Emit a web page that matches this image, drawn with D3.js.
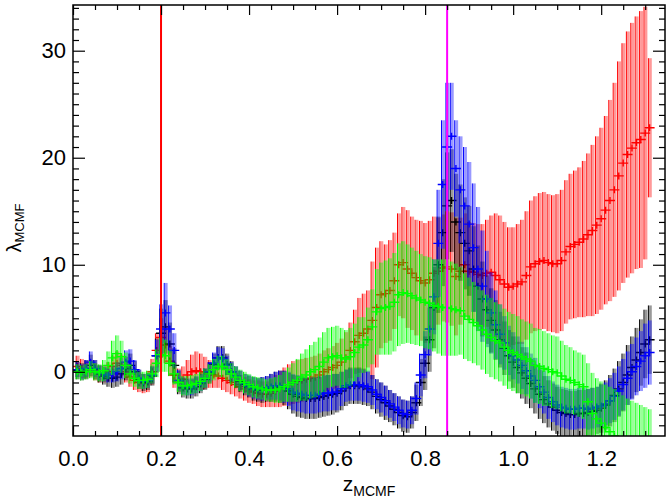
<!DOCTYPE html>
<html>
<head>
<meta charset="utf-8">
<script src="https://cdn.jsdelivr.net/npm/d3@7.9.0/dist/d3.min.js"></script>
<style>
  body { margin: 0; background: #fff; }
  text { font-family: "Liberation Sans", Arial, Helvetica, sans-serif; fill: #000; }
</style>
</head>
<body>
<svg id="chart" width="668" height="502"></svg>
<script>
// redshift grid shared by all four runs
const zGrid = [
  0.01,0.02,0.03,0.04,0.05,0.06,0.07,0.08,0.09,0.10,
  0.11,0.12,0.13,0.14,0.15,0.16,0.17,0.18,0.19,0.20,
  0.21,0.22,0.23,0.24,0.25,0.26,0.27,0.28,0.29,0.30,
  0.31,0.32,0.33,0.34,0.35,0.36,0.37,0.38,0.39,0.40,
  0.41,0.42,0.43,0.44,0.45,0.46,0.47,0.48,0.49,0.50,
  0.51,0.52,0.53,0.54,0.55,0.56,0.57,0.58,0.59,0.60,
  0.61,0.62,0.63,0.64,0.65,0.66,0.67,0.68,0.69,0.70,
  0.71,0.72,0.73,0.74,0.75,0.76,0.77,0.78,0.79,0.80,
  0.81,0.82,0.83,0.84,0.85,0.86,0.87,0.88,0.89,0.90,
  0.91,0.92,0.93,0.94,0.95,0.96,0.97,0.98,0.99,1.00,
  1.01,1.02,1.03,1.04,1.05,1.06,1.07,1.08,1.09,1.10,
  1.11,1.12,1.13,1.14,1.15,1.16,1.17,1.18,1.19,1.20,
  1.21,1.22,1.23,1.24,1.25,1.26,1.27,1.28,1.29,1.30,
  1.31
];

const blackVal = [
  0.1,0.0,0.2,0.6,0.2,-0.2,-0.4,-0.6,-0.6,-0.5,
  -0.2,0.3,0.6,0.0,-0.7,-1.0,-0.9,-0.4,1.5,3.6,
  4.2,2.6,0.6,-1.0,-1.5,-1.6,-1.6,-1.4,-1.1,-0.7,
  -0.1,0.7,1.3,1.3,0.7,0.0,-0.5,-0.9,-1.2,-1.4,
  -1.6,-1.7,-1.7,-1.6,-1.5,-1.4,-1.4,-1.5,-1.8,-2.1,
  -2.3,-2.4,-2.5,-2.5,-2.5,-2.4,-2.3,-2.2,-2.1,-2.0,
  -1.8,-1.5,-1.3,-1.3,-1.3,-1.4,-1.6,-1.9,-2.3,-2.6,
  -2.9,-3.2,-3.5,-3.8,-4.1,-4.2,-3.8,-2.9,-1.0,0.8,
  3.0,6.0,10.0,13.0,15.5,16.0,14.0,13.0,12.0,11.3,
  9.6,8.0,6.8,5.8,4.8,3.9,3.0,2.2,1.5,0.9,
  0.4,-0.1,-0.6,-1.1,-1.6,-2.1,-2.6,-3.0,-3.3,-3.6,
  -3.8,-3.9,-4.0,-4.0,-3.9,-3.9,-3.8,-3.7,-3.6,-3.4,
  -3.1,-2.7,-2.2,-1.6,-1.0,-0.3,0.4,1.1,1.8,2.6,
  3.0
];
const blackErr = [
  0.8,0.8,0.9,1.0,0.9,0.8,0.8,0.8,0.9,0.9,
  1.0,1.1,1.1,1.0,0.9,0.8,0.8,0.9,1.6,2.3,
  2.5,2.0,1.6,1.1,0.9,0.9,0.9,0.9,0.9,1.0,
  1.0,1.0,1.1,1.1,1.0,1.0,1.0,1.0,1.0,1.0,
  1.1,1.1,1.2,1.2,1.3,1.4,1.5,1.6,1.7,1.8,
  1.9,1.9,1.9,1.9,1.9,1.9,1.9,1.9,1.9,1.8,
  1.8,1.7,1.7,1.7,1.7,1.7,1.6,1.6,1.6,1.6,
  1.6,1.5,1.5,1.5,1.5,1.5,1.5,1.7,2.2,2.5,
  3.0,3.8,4.5,5.0,5.0,4.8,4.5,4.5,4.3,4.2,
  4.0,3.8,3.5,3.2,3.0,2.8,2.6,2.5,2.4,2.4,
  2.4,2.4,2.4,2.3,2.3,2.3,2.2,2.2,2.2,2.2,
  2.2,2.2,2.2,2.2,2.2,2.2,2.2,2.2,2.2,2.3,
  2.3,2.4,2.5,2.6,2.7,2.8,2.9,3.0,3.1,3.2,
  3.2
];

const blueVal = [
  0.2,0.0,0.3,0.9,0.3,-0.1,-0.2,-0.3,-0.2,0.0,
  0.3,0.9,1.0,0.2,-0.6,-0.9,-0.8,-0.3,1.5,4.0,
  5.5,4.0,2.0,-0.8,-1.3,-1.4,-1.4,-1.2,-1.0,-0.6,
  0.0,0.8,1.3,1.2,0.6,0.0,-0.4,-0.8,-1.1,-1.3,
  -1.5,-1.6,-1.6,-1.5,-1.4,-1.3,-1.3,-1.4,-1.6,-1.9,
  -2.0,-2.1,-2.2,-2.2,-2.2,-2.1,-2.0,-2.0,-1.9,-1.9,
  -1.6,-1.3,-1.2,-1.2,-1.2,-1.3,-1.4,-1.7,-2.1,-2.4,
  -2.7,-3.0,-3.3,-3.6,-3.9,-4.0,-3.6,-2.5,-0.3,1.6,
  4.0,7.0,12.0,17.5,21.0,22.0,19.0,17.0,15.5,13.8,
  11.6,9.6,8.0,6.8,5.5,4.4,3.5,2.7,2.0,1.5,
  1.1,0.6,0.1,-0.4,-0.8,-1.4,-1.9,-2.4,-2.8,-3.1,
  -3.3,-3.4,-3.5,-3.5,-3.4,-3.4,-3.5,-3.4,-3.3,-3.2,
  -3.0,-2.7,-2.3,-1.8,-1.2,-0.6,0.0,0.5,1.0,1.5,
  1.8
];
const blueErr = [
  0.7,0.7,0.8,1.0,0.8,0.7,0.7,0.7,0.8,0.9,
  1.0,1.1,1.1,0.9,0.8,0.7,0.7,0.8,1.5,2.3,
  2.8,2.2,1.6,1.0,0.8,0.8,0.8,0.8,0.8,0.9,
  0.9,1.0,1.0,1.0,0.9,0.9,0.9,0.9,0.9,1.0,
  1.0,1.0,1.1,1.1,1.2,1.3,1.4,1.5,1.6,1.7,
  1.7,1.7,1.7,1.7,1.7,1.7,1.7,1.7,1.7,1.7,
  1.6,1.5,1.5,1.5,1.5,1.5,1.5,1.4,1.4,1.4,
  1.4,1.3,1.3,1.3,1.3,1.3,1.3,1.5,2.0,2.2,
  2.5,3.5,5.0,6.0,6.0,5.0,4.5,5.0,5.5,5.8,
  6.0,5.8,5.2,4.5,3.8,3.2,2.8,2.5,2.3,2.2,
  2.2,2.2,2.2,2.1,2.1,2.0,2.0,2.0,1.9,1.9,
  1.9,1.9,1.9,1.9,1.9,1.9,1.9,1.9,1.9,2.0,
  2.0,2.1,2.2,2.3,2.4,2.5,2.6,2.7,2.8,3.0,
  3.0
];

const redVal = [
  0.5,0.3,0.2,0.3,0.0,-0.2,-0.2,0.0,0.5,0.8,
  0.6,0.0,-0.5,-0.8,-1.0,-1.1,-1.0,0.0,2.0,3.2,
  2.5,1.0,-0.3,-0.8,-0.7,-0.3,0.0,0.1,0.0,-0.1,
  -0.2,-0.3,-0.4,-0.6,-0.8,-1.0,-1.2,-1.4,-1.6,-1.8,
  -1.9,-2.0,-2.1,-2.1,-2.0,-1.8,-1.6,-1.4,-1.2,-1.0,
  -0.9,-0.8,-0.7,-0.6,-0.5,-0.3,0.0,0.2,0.4,0.6,
  0.9,1.3,2.0,2.8,3.4,3.6,4.0,4.8,6.0,7.2,
  7.3,7.6,8.5,10.0,10.2,9.6,9.2,8.8,8.5,8.3,
  8.6,9.2,9.4,9.7,9.8,9.6,8.9,9.4,10.0,9.4,
  9.3,9.1,9.0,9.2,9.3,9.0,8.6,8.2,7.9,8.0,
  8.2,8.4,9.0,9.8,10.1,10.3,10.4,10.2,10.1,10.1,
  10.4,11.2,11.7,11.9,12.1,12.4,12.8,13.2,13.7,14.3,
  15.1,16.0,17.0,18.3,19.5,20.3,20.9,21.4,21.7,22.3,
  22.8
];
const redErr = [
  1.0,0.9,0.8,0.8,0.8,0.8,0.8,0.9,1.0,1.1,
  1.0,1.0,0.9,0.9,0.9,0.9,0.9,1.2,1.6,1.8,
  1.7,1.4,1.2,1.1,1.2,1.4,1.6,1.8,1.7,1.5,
  1.3,1.2,1.1,1.1,1.1,1.1,1.1,1.1,1.1,1.1,
  1.1,1.2,1.2,1.2,1.3,1.5,1.7,1.8,1.9,2.0,
  2.0,2.0,2.0,2.0,2.0,2.0,2.0,2.0,2.0,2.1,
  2.2,2.4,2.6,3.0,3.5,3.7,3.6,5.5,5.6,5.0,
  4.6,4.7,4.5,4.8,5.2,5.5,5.3,5.4,5.6,5.6,
  5.5,5.3,5.0,5.0,5.2,5.3,5.5,5.0,4.8,4.6,
  4.6,4.7,4.8,5.0,5.3,5.8,6.0,5.8,5.6,5.5,
  5.6,5.8,6.0,6.2,6.3,6.4,6.4,6.4,6.4,6.5,
  6.6,6.7,6.8,6.9,7.0,7.3,7.6,8.0,8.3,8.5,
  8.8,9.4,10.0,10.7,11.2,11.5,11.7,11.8,12.0,11.8,
  6.5
];

const greenVal = [
  0.0,-0.1,0.0,0.2,0.0,-0.1,0.1,0.6,1.3,1.7,
  1.4,0.6,-0.2,-0.6,-0.8,-0.8,-0.7,-0.2,0.8,1.6,
  1.5,0.8,-0.2,-1.0,-1.3,-1.3,-1.2,-1.1,-0.9,-0.6,
  -0.2,0.2,0.5,0.5,0.2,-0.2,-0.5,-0.8,-1.0,-1.2,
  -1.4,-1.5,-1.6,-1.7,-1.7,-1.7,-1.6,-1.4,-1.2,-1.0,
  -0.8,-0.5,-0.3,0.0,0.2,0.5,0.9,1.3,1.4,1.5,
  1.3,1.2,1.4,1.8,2.3,2.5,3.0,4.2,5.6,5.9,
  6.0,6.1,6.5,7.2,7.4,7.3,7.1,6.9,6.7,6.5,
  6.4,6.2,6.1,6.0,6.0,5.9,5.8,5.7,5.2,4.9,
  4.6,4.3,3.9,3.5,3.2,2.9,2.7,2.3,2.0,1.8,
  1.6,1.4,1.2,1.0,0.6,0.5,0.3,0.2,0.0,-0.1,
  -0.4,-0.7,-0.8,-1.0,-1.2,-1.4,-2.8,-3.9,-4.4,-4.8,
  -5.2,-5.6,-6.0,-6.5,-7.0,-7.5,-8.0,-8.5,-9.0,-9.5,
  -10.0
];
const greenErr = [
  0.7,0.7,0.7,0.8,0.8,0.8,1.0,1.3,1.6,1.7,
  1.5,1.2,0.9,0.8,0.8,0.8,0.8,0.9,1.3,1.6,
  1.5,1.2,1.0,0.9,0.9,0.9,0.9,0.9,0.9,0.9,
  0.9,1.0,1.0,1.0,1.0,1.0,1.0,1.0,1.0,1.0,
  1.0,1.0,1.0,1.0,1.1,1.2,1.3,1.4,1.6,1.8,
  2.0,2.2,2.4,2.5,2.6,2.7,2.8,2.8,2.8,2.8,
  2.8,2.7,2.7,2.7,2.8,2.6,3.0,3.5,4.0,4.3,
  4.4,4.5,4.6,4.8,4.8,4.6,4.5,4.4,4.3,4.3,
  4.3,4.3,4.4,4.5,4.5,4.4,4.3,4.1,4.0,3.9,
  3.8,3.7,3.7,3.7,3.7,3.6,3.6,3.6,3.6,3.6,
  3.6,3.5,3.5,3.5,3.5,3.5,3.5,3.4,3.4,3.4,
  3.3,3.2,3.1,3.0,3.0,3.0,3.6,3.8,3.8,3.9,
  4.0,4.2,4.4,4.6,4.8,5.0,5.3,5.6,5.9,6.2,
  6.5
];

const xMajor = [0.0, 0.2, 0.4, 0.6, 0.8, 1.0, 1.2];
const xMinor = [0.05,0.1,0.15,0.25,0.3,0.35,0.45,0.5,0.55,0.65,0.7,0.75,0.85,0.9,0.95,1.05,1.1,1.15,1.25,1.3];
const yMajor = [0, 10, 20, 30];
const yMinor = [-5,-4,-3,-2,-1,1,2,3,4,5,6,7,8,9,11,12,13,14,15,16,17,18,19,21,22,23,24,25,26,27,28,29,31,32,33,34];
const refLines = [
  { z: 0.2, color: '#ff0000' },
  { z: 0.85, color: '#ff00ff' }
];

const series = [
  { name: 'red', color: '#ff0000', val: redVal, err: redErr },
  { name: 'black', color: '#000000', val: blackVal, err: blackErr },
  { name: 'blue', color: '#0000ff', val: blueVal, err: blueErr },
  { name: 'green', color: '#00ff00', val: greenVal, err: greenErr }
];

const W = 668, H = 502;
const m = { left: 73, right: 3, top: 5, bottom: 66 };
const svg = d3.select('#chart');

const x = d3.scaleLinear().domain([0, 1.345]).range([m.left, W - m.right]);
const y = d3.scaleLinear().domain([-6, 34.27]).range([H - m.bottom, m.top]);

svg.append('clipPath').attr('id', 'plotclip')
  .append('rect')
  .attr('x', m.left).attr('y', m.top)
  .attr('width', W - m.left - m.right).attr('height', H - m.top - m.bottom);

const plot = svg.append('g').attr('clip-path', 'url(#plotclip)');

series.forEach(s => {
  const pts = zGrid.map((z, i) => ({ z, v: s.val[i], e: s.err[i] }));
  const g = plot.append('g').attr('class', 'series-' + s.name);

  // translucent band part of each error bar
  g.selectAll('rect.band').data(pts).join('rect')
    .attr('class', 'band')
    .attr('x', d => x(d.z) - 0.6)
    .attr('width', 2.8)
    .attr('y', d => y(d.v + d.e))
    .attr('height', d => y(d.v - d.e) - y(d.v + d.e))
    .attr('fill', s.color)
    .attr('fill-opacity', 0.4);

  // solid thin error bar
  g.selectAll('line.err').data(pts).join('line')
    .attr('class', 'err')
    .attr('x1', d => x(d.z) - 1.2).attr('x2', d => x(d.z) - 1.2)
    .attr('y1', d => y(d.v + d.e)).attr('y2', d => y(d.v - d.e))
    .attr('stroke', s.color)
    .attr('stroke-width', 1);

  // plus markers
  g.selectAll('path.mark').data(pts).join('path')
    .attr('class', 'mark')
    .attr('d', d => {
      const cx = x(d.z), cy = y(d.v);
      return `M${cx - 5},${cy}H${cx + 5}M${cx},${cy - 3.5}V${cy + 3.5}`;
    })
    .attr('stroke', s.color)
    .attr('stroke-width', 1.4)
    .attr('fill', 'none');
});

// vertical reference lines
plot.selectAll('line.ref').data(refLines).join('line')
  .attr('class', 'ref')
  .attr('x1', d => x(d.z)).attr('x2', d => x(d.z))
  .attr('y1', m.top).attr('y2', H - m.bottom)
  .attr('stroke', d => d.color)
  .attr('stroke-width', 2);

// axes, ticks pointing inward on all four sides
const fmt = d3.format('.1f');
const axisStyle = g => {
  g.select('.domain').remove();
  g.selectAll('.tick line').attr('stroke', '#000').attr('stroke-width', 1.2);
  g.selectAll('.tick text').style('font-size', '22px').attr('fill', '#000');
};

svg.append('g').attr('transform', `translate(0,${H - m.bottom})`)
  .call(d3.axisBottom(x).tickValues(xMajor).tickSize(-10).tickPadding(14).tickFormat(fmt))
  .call(axisStyle);
svg.append('g').attr('transform', `translate(0,${H - m.bottom})`)
  .call(d3.axisBottom(x).tickValues(xMinor).tickSize(-5).tickFormat(''))
  .call(axisStyle);
svg.append('g').attr('transform', `translate(0,${m.top})`)
  .call(d3.axisTop(x).tickValues(xMajor).tickSize(-10).tickFormat(''))
  .call(axisStyle);
svg.append('g').attr('transform', `translate(0,${m.top})`)
  .call(d3.axisTop(x).tickValues(xMinor).tickSize(-5).tickFormat(''))
  .call(axisStyle);

svg.append('g').attr('transform', `translate(${m.left},0)`)
  .call(d3.axisLeft(y).tickValues(yMajor).tickSize(-12).tickPadding(7).tickFormat(d3.format('d')))
  .call(axisStyle);
svg.append('g').attr('transform', `translate(${m.left},0)`)
  .call(d3.axisLeft(y).tickValues(yMinor).tickSize(-6).tickFormat(''))
  .call(axisStyle);
svg.append('g').attr('transform', `translate(${W - m.right},0)`)
  .call(d3.axisRight(y).tickValues(yMajor).tickSize(-12).tickFormat(''))
  .call(axisStyle);
svg.append('g').attr('transform', `translate(${W - m.right},0)`)
  .call(d3.axisRight(y).tickValues(yMinor).tickSize(-6).tickFormat(''))
  .call(axisStyle);

svg.append('rect')
  .attr('x', m.left).attr('y', m.top)
  .attr('width', W - m.left - m.right).attr('height', H - m.top - m.bottom)
  .attr('fill', 'none').attr('stroke', '#000').attr('stroke-width', 1.5);

// axis titles
const xt = svg.append('text')
  .attr('x', (m.left + W - m.right) / 2)
  .attr('y', 491)
  .attr('text-anchor', 'middle');
xt.append('tspan').style('font-size', '21px').text('z');
xt.append('tspan').style('font-size', '14px').attr('dy', 5).text('MCMF');

const yt = svg.append('text')
  .attr('transform', 'translate(21,228) rotate(-90)')
  .attr('text-anchor', 'middle');
yt.append('tspan').style('font-size', '20px').text('λ');
yt.append('tspan').style('font-size', '13px').attr('dy', 3).text('MCMF');
</script>
</body>
</html>
